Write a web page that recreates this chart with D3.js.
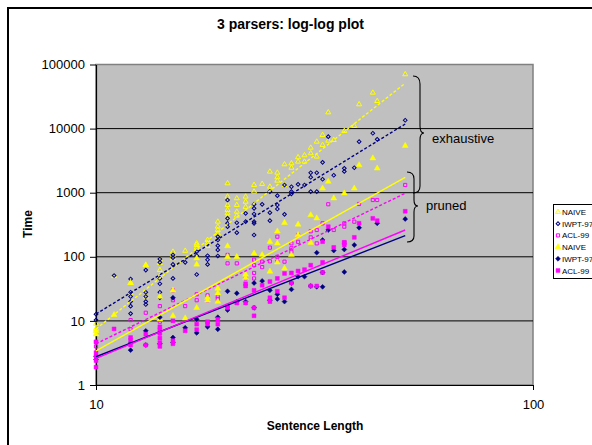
<!DOCTYPE html>
<html><head><meta charset="utf-8">
<script src="https://cdn.jsdelivr.net/npm/d3@7/dist/d3.min.js"></script>
<style>body{margin:0;background:#fff}svg{display:block;font-family:"Liberation Sans",Arial,sans-serif}</style>
</head><body><svg id="c" width="592" height="445"></svg>
<script>
// ---- data (sentence length, time) ----
const naiveEx = [[10,9],[10,7.5],[11,50],[12,39],[12,27],[13,74],[13,24],[14,90],[14,80],[14,62],[14,50],[15,120],[15,107],[15,95],[16,124],[17,162],[17,153],[17,139],[18,183],[18,162],[18,147],[19,353],[19,295],[19,262],[19,233],[19,206],[20,1400],[20,867],[20,643],[20,537],[20,476],[20,423],[21,818],[21,643],[21,505],[21,438],[22,867],[22,722],[22,600],[23,1320],[23,1040],[24,1370],[25,2130],[25,1240],[26,2050],[26,1740],[26,1540],[27,2770],[27,1320],[28,2870],[28,2450],[29,3570],[29,3050],[30,3830],[30,3050],[31,5030],[31,4120],[32,6250],[32,3650],[33,7940],[33,5550],[34,6470],[34,17900],[35,6640],[37,9160],[39,10960],[40,23900],[43,36300],[44,26900],[51,70300]];
const iwptEx = [[10,12.7],[10,10.3],[11,51],[12,45],[12,28],[12,24],[12,20],[12,17],[12,13],[13,62],[13,28],[13,24],[13,20],[13,18],[14,92],[14,82],[14,46],[14,38],[14,28],[14,23],[15,107],[15,97],[15,76],[15,46],[16,82],[17,120],[17,104],[17,53],[18,104],[18,90],[18,76],[19,206],[19,183],[19,149],[19,128],[19,103],[20,769],[20,398],[20,333],[20,295],[21,340],[21,238],[22,476],[22,353],[23,659],[23,571],[23,466],[23,353],[23,333],[23,219],[24,659],[25,1040],[25,488],[25,366],[26,900],[26,643],[26,557],[27,1320],[27,460],[28,1240],[28,1040],[28,960],[29,1350],[30,1320],[31,2050],[31,1740],[31,1040],[32,2050],[32,1040],[33,2980],[33,1620],[34,7480],[35,1870],[37,2400],[37,2150],[39,2450],[40,6250],[43,8450],[44,6800],[51,13500]];
const aclEx = [[10,4.7],[10,4.0],[12,10.3],[12,7.4],[13,13.4],[14,17],[14,10.6],[14,9.7],[15,30],[15,21],[16,17],[17,26],[17,21],[18,25],[18,21],[19,24],[19,22],[20,107],[20,79],[21,79],[22,46],[23,90],[23,74],[23,56],[23,46],[24,84],[24,69],[25,139],[25,85],[26,206],[26,100],[26,84],[27,84],[28,162],[28,136],[28,120],[29,219],[29,171],[31,201],[31,250],[32,262],[32,162],[33,333],[34,660],[35,262],[37,333],[37,295],[39,353],[40,667],[43,769],[44,769],[51,1320]];
const naivePr = [[10,7],[10,6.2],[11,12.4],[12,39],[13,74],[14,24],[14,10.6],[15,30],[15,12],[16,11],[17,95],[17,76],[17,16],[18,23],[18,21],[19,32],[19,27],[19,20],[20,147],[20,100],[21,100],[22,53],[22,47],[23,113],[24,107],[25,59],[25,172],[26,250],[26,162],[26,82],[27,66],[27,340],[28,107],[29,219],[29,319],[31,166],[31,448],[32,400],[33,1170],[34,1490],[35,820],[37,980],[39,1170],[40,2700],[43,3450],[44,2400],[51,5400]];
const iwptPr = [[10,2.8],[10,2.5],[12,4.5],[12,3.5],[13,7.0],[13,4.2],[14,11.4],[14,4.4],[15,23],[15,5.5],[15,4.6],[16,7.8],[17,10.6],[17,6.5],[18,8.1],[19,11.4],[19,7.4],[20,29],[20,14.8],[21,27],[21,20],[22,20],[23,39],[23,16],[24,42],[25,30],[25,21],[26,22],[26,26],[27,20],[28,31],[28,39],[29,49],[30,49],[31,35],[32,34],[33,34],[33,57],[32,116],[35,125],[37,58],[37,130],[39,153],[33,183],[34,262],[40,284],[44,333],[51,389]];
const aclPr = [[10,4.7],[10,3.2],[10,2.8],[10,2.4],[10,1.9],[11,7.5],[12,5.5],[12,5.0],[12,4.2],[13,6.2],[13,4.2],[14,8.1],[14,7.3],[14,6.4],[14,5.4],[14,4.6],[14,4.0],[15,10],[15,4.9],[15,4.4],[16,7.0],[17,8.9],[17,7.3],[18,9.7],[18,8.9],[19,10.6],[19,8.9],[20,16],[20,17],[21,19],[22,38],[22,35],[22,19],[23,30],[23,16],[23,12],[24,36],[25,41],[25,23],[25,20],[26,46],[26,29],[27,55],[27,23],[28,56],[28,39],[29,60],[30,63],[31,74],[31,35],[32,35],[33,82],[33,57],[35,140],[37,168],[37,153],[39,201],[33,172],[34,295],[37,166],[40,333],[43,398],[44,366],[51,513]];

// power trendlines: value at the first and last sentence length
const trendX = [10, 51];
const trendNaiveEx = [7.5, 51000];
const trendIwptEx = [12.8, 11800];
const trendAclEx = [4.4, 980];
const trendNaivePr = [3.4, 1740];
const trendIwptPr = [2.76, 214];
const trendAclPr = [2.6, 262];

const legendNames = ["NAIVE","IWPT-97","ACL-99","NAIVE","IWPT-97","ACL-99"];
const xTicks = [10, 100];
const yTicks = [1, 10, 100, 1000, 10000, 100000];

// ---- drawing ----
const svg = d3.select("#c");
const L = 96, R = 533, T = 64.5, B = 385;
const x = d3.scaleLog().domain([10,100]).range([L,R]);
const y = d3.scaleLog().domain([1,100000]).range([B,T]);

svg.append("rect").attr("x",8).attr("y",8).attr("width",640).attr("height",480)
  .attr("fill","#fff").attr("stroke","#000").attr("stroke-width",2);

svg.append("text").attr("x",217).attr("y",28.5).attr("font-size",14).attr("font-weight","bold")
  .text("3 parsers: log-log plot");

svg.append("rect").attr("x",L).attr("y",T).attr("width",R-L).attr("height",B-T)
  .attr("fill","#C0C0C0").attr("stroke","#808080").attr("stroke-width",1.5);

svg.append("g").selectAll("line").data(yTicks.slice(1,-1)).join("line")
  .attr("x1",L).attr("x2",R).attr("y1",d=>y(d)).attr("y2",d=>y(d))
  .attr("stroke","#000").attr("stroke-width",1);

const yAxis = svg.append("g").attr("transform",`translate(${L},0)`)
  .call(d3.axisLeft(y).tickValues(yTicks).tickFormat(d3.format("d")).tickSize(6).tickSizeOuter(0).tickPadding(5));
const xAxis = svg.append("g").attr("transform",`translate(0,${B})`)
  .call(d3.axisBottom(x).tickValues(xTicks).tickFormat(d3.format("d")).tickSize(5).tickSizeOuter(0).tickPadding(10));
[yAxis,xAxis].forEach(a=>{
  a.selectAll("text").attr("font-size",13).attr("font-family","'Liberation Sans',Arial,sans-serif").attr("fill","#000");
  a.select(".domain").attr("stroke","#000").attr("stroke-width",1.2);
  a.selectAll(".tick line").attr("stroke","#000");
});

svg.append("text").attr("x",315).attr("y",430).attr("text-anchor","middle")
  .attr("font-size",12).attr("font-weight","bold").text("Sentence Length");
svg.append("text").attr("transform","translate(32,224) rotate(-90)").attr("text-anchor","middle")
  .attr("font-size",12).attr("font-weight","bold").text("Time");

const YEL="#FFFF00", NAV="#000080", MAG="#FF00FF";
const series = [
  {data:naiveEx, color:YEL, sym:d3.symbolTriangle, size:11, fill:false, rot:0},
  {data:iwptEx,  color:NAV, sym:d3.symbolSquare,   size:7,  fill:false, rot:45},
  {data:aclEx,   color:MAG, sym:d3.symbolSquare,   size:10, fill:false, rot:0},
  {data:naivePr, color:YEL, sym:d3.symbolTriangle, size:15, fill:true, rot:0},
  {data:iwptPr,  color:NAV, sym:d3.symbolSquare,   size:12, fill:true, rot:45},
  {data:aclPr,   color:MAG, sym:d3.symbolSquare,   size:15, fill:true, rot:0}
];
const trends = [
  {v:trendNaiveEx, color:YEL, dash:"3,2"},
  {v:trendIwptEx, color:NAV, dash:"3,2"},
  {v:trendAclEx, color:MAG, dash:"3,2"},
  {v:trendNaivePr, color:YEL, dash:null},
  {v:trendIwptPr, color:NAV, dash:null},
  {v:trendAclPr, color:MAG, dash:null}
];

const gPts = svg.append("g");
series.forEach(s=>{
  gPts.append("g").selectAll("path").data(s.data).join("path")
    .attr("transform",d=>`translate(${x(d[0])},${y(d[1])}) rotate(${s.rot})`)
    .attr("d",d3.symbol().type(s.sym).size(s.size))
    .attr("fill",s.fill?s.color:"none").attr("stroke",s.color).attr("stroke-width",s.fill?0.5:1);
});

const line = d3.line().x(d=>x(d[0])).y(d=>y(d[1]));
trends.forEach(t=>{
  svg.append("path").datum(trendX.map((xx,i)=>[xx,t.v[i]])).attr("d",line)
    .attr("fill","none").attr("stroke",t.color).attr("stroke-width",1.4)
    .attr("stroke-dasharray",t.dash);
});

const br = svg.append("g").attr("fill","none").attr("stroke","#000").attr("stroke-width",1.1);
br.append("path").attr("d","M413,76 Q420,76 420,84 L420,126 Q420,133 424,133 Q420,133 420,140 L420,186 Q420,193 413,193");
br.append("path").attr("d","M407,172 Q414,172 414,179 L414,200 Q414,206 418,206 Q414,206 414,212 L414,236 Q414,242 407,242");
svg.append("text").attr("x",432).attr("y",142.5).attr("font-size",13).text("exhaustive");
svg.append("text").attr("x",426).attr("y",210).attr("font-size",13).text("pruned");

const lg = svg.append("g");
lg.append("rect").attr("x",553.5).attr("y",204.5).attr("width",60).attr("height",74)
  .attr("fill","#fff").attr("stroke","#000").attr("stroke-width",1);
legendNames.forEach((n,i)=>{
  const s = series[i], yy = 212 + i*11.7;
  lg.append("path").attr("transform",`translate(558,${yy}) rotate(${s.rot})`)
    .attr("d",d3.symbol().type(s.sym).size(s.size))
    .attr("fill",s.fill?s.color:"none").attr("stroke",s.color).attr("stroke-width",s.fill?0.5:1);
  lg.append("text").attr("x",562).attr("y",yy+3).attr("font-size",8).text(n);
});
</script></body></html>
